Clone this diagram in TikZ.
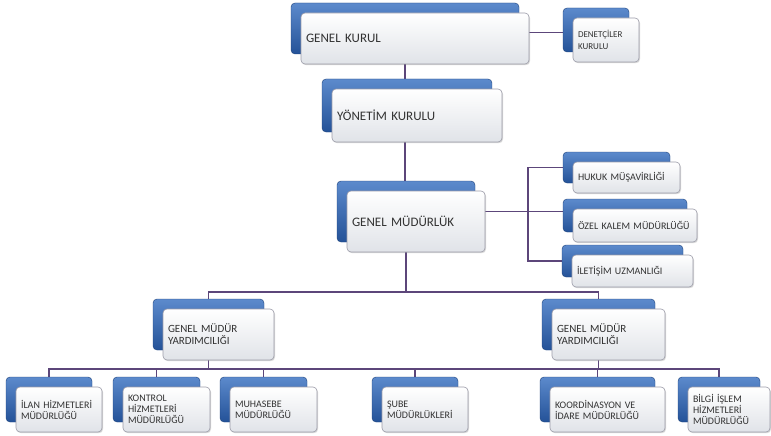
\documentclass[tikz,border=0pt]{standalone}
\usepackage{fontspec}
\setmainfont{Carlito}
\usetikzlibrary{backgrounds,shadows}

\definecolor{bktop}{RGB}{92,138,204}
\definecolor{bkbot}{RGB}{36,82,152}
\definecolor{frbot}{RGB}{224,227,232}
\definecolor{frline}{RGB}{155,155,168}
\definecolor{linkcol}{RGB}{92,70,122}
\definecolor{txtcol}{RGB}{50,50,50}

\newcommand{\orgbox}[7][]{%
  \pgfmathsetmacro\boxtw{#5-10}%
  \node[backbox, minimum width=#5pt, minimum height=#6pt] (#2-b) at (#3-10,#4-10) {};
  \node[frontbox, minimum width=#5pt, minimum height=#6pt, text width=\boxtw pt, #1] (#2) at (#3,#4) {#7};
}

\begin{document}
\begin{tikzpicture}[x=1pt,y=-1pt,
  backbox/.style={rectangle, rounded corners=4pt, anchor=north west, outer sep=0pt, inner sep=0pt,
    top color=bktop, bottom color=bkbot, draw=bkbot!80!black, line width=0.4pt},
  frontbox/.style={rectangle, rounded corners=4pt, anchor=north west, outer sep=0pt,
    inner xsep=5pt, inner ysep=0pt, top color=white, bottom color=frbot, draw=frline,
    line width=0.6pt, align=left, text=txtcol, font=\fontsize{10}{11}\selectfont,
    drop shadow={shadow xshift=1pt, shadow yshift=-1.2pt, opacity=.3}},
  bigtext/.style={font=\fontsize{13}{15}\selectfont},
  midtext/.style={font=\fontsize{11}{12}\selectfont},
  tinytext/.style={font=\fontsize{9}{12}\selectfont},
  link/.style={draw=linkcol, line width=1.8pt}]
\useasboundingbox (0,0) rectangle (771,436);

\orgbox[bigtext]{gk}{301}{13}{228}{51}{GENEL KURUL}
\orgbox[tinytext]{dk}{573}{18}{66}{44}{DENETÇİLER\\KURULU}
\orgbox[bigtext]{yk}{332}{89}{170}{53}{YÖNETİM KURULU}
\orgbox[bigtext]{gm}{347}{191}{138}{61}{GENEL MÜDÜRLÜK}
\orgbox{hm}{573}{162}{107}{31}{HUKUK MÜŞAVİRLİĞİ}
\orgbox{ok}{573}{209}{124}{33}{ÖZEL KALEM MÜDÜRLÜĞÜ}
\orgbox{iu}{572}{255}{121}{32}{İLETİŞİM UZMANLIĞI}
\orgbox[midtext]{gy1}{163}{309}{111}{51}{GENEL MÜDÜR\\YARDIMCILIĞI}
\orgbox[midtext]{gy2}{552}{309}{113}{51}{GENEL MÜDÜR\\YARDIMCILIĞI}
\orgbox{il}{16}{387}{86}{45}{İLAN HİZMETLERİ\\MÜDÜRLÜĞÜ}
\orgbox{kh}{123}{387}{87}{45}{KONTROL\\HİZMETLERİ\\MÜDÜRLÜĞÜ}
\orgbox{mm}{230}{387}{87}{45}{MUHASEBE\\MÜDÜRLÜĞÜ}
\orgbox{sm}{382}{387}{86}{45}{ŞUBE\\MÜDÜRLÜKLERİ}
\orgbox{ki}{550}{387}{115}{45}{KOORDİNASYON VE\\İDARE MÜDÜRLÜĞÜ}
\orgbox{bi}{688}{387}{82}{45}{BİLGİ İŞLEM\\HİZMETLERİ\\MÜDÜRLÜĞÜ}

\begin{scope}[on background layer]
\coordinate (rbus) at (528,209);
\coordinate (tbus) at (405,292);
\coordinate (bbus) at (405,369);
\draw[link] ([yshift=-4pt]gk-b.center) -- ([yshift=-4pt]gk-b.center -| dk-b.center);
\draw[link] (gk-b) -- (gk-b |- gm-b);
\draw[link] (gm-b) -- (gm-b -| ok-b);
\draw[link] (hm-b) -| (rbus) |- (iu-b);
\draw[link] (gm-b) -- (gm-b |- tbus);
\draw[link] (gy1-b) |- (tbus) -| (gy2-b);
\draw[link] (il-b) |- (bbus) -| (bi-b);
\foreach \n in {gy1,gy2,kh,mm,sm,ki}
  \draw[link] (\n-b) -- (\n-b |- bbus);
\end{scope}
\end{tikzpicture}
\end{document}
